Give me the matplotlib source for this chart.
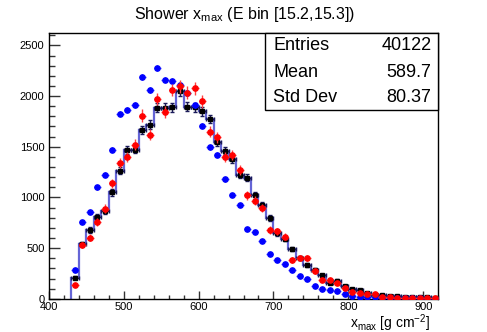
import numpy as np
import matplotlib
matplotlib.use("Agg")
import matplotlib.pyplot as plt
from matplotlib.ticker import MultipleLocator

plt.rcParams['font.family'] = ['Liberation Sans', 'DejaVu Sans']

# bin centres (10 g/cm2 bins)
xmax_centers = [435, 445, 455, 465, 475, 485, 495, 505, 515, 525,
                535, 545, 555, 565, 575, 585, 595, 605, 615, 625,
                635, 645, 655, 665, 675, 685, 695, 705, 715, 725,
                735, 745, 755, 765, 775, 785, 795, 805, 815, 825,
                835, 845, 855, 865, 875, 885, 895, 905, 915]

# histogram (black squares + step line)
hist_counts = [210, 540, 680, 810, 870, 1050, 1265, 1470, 1472, 1663,
               1719, 1884, 1885, 1888, 2050, 1895, 1888, 1850, 1775, 1551,
               1462, 1377, 1223, 1195, 1019, 923, 795, 647, 590, 490,
               404, 335, 288, 232, 160, 178, 125, 99, 85, 55,
               35, 35, 30, 25, 20, 18, 14, 13, 9]

# red points
red_counts = [134, 530, 600, 760, 890, 1138, 1340, 1397, 1522, 1808,
              1620, 1972, 1845, 2060, 2095, 2035, 2075, 1948, 1650, 1594,
              1397, 1420, 1272, 1019, 969, 897, 680, 664, 614, 385,
              404, 400, 272, 187, 185, 160, 108, 68, 62, 45,
              45, 22, 16, 12, 10, 8, 8, 5, 4]

# blue points
blue_counts = [289, 755, 858, 1098, 1226, 1472, 1824, 1867, 1913, 2189,
               2061, 2274, 2163, 2150, 2110, 2030, 1910, 1709, 1495, 1423,
               1177, 1019, 927, 686, 657, 568, 437, 380, 345, 282,
               220, 197, 128, 92, 82, 74, 49, 30, 20, 18,
               15, 10, 8, 6, 5, 4, 3, 2, 1]

title = 'Shower x$_{\\mathregular{max}}$ (E bin [15.2,15.3])'
stats_labels = ['Entries', 'Mean', 'Std Dev']
stats_values = ['40122', '589.7', '80.37']

x = np.array(xmax_centers, dtype=float)
h = np.array(hist_counts, dtype=float)
r = np.array(red_counts, dtype=float)
b = np.array(blue_counts, dtype=float)
edges = np.append(x - 5, x[-1] + 5)

fig = plt.figure(figsize=(4.87, 3.32), dpi=100)
ax = fig.add_axes([0.1, 0.1, 0.8, 0.8])

ax.stairs(h, edges, baseline=0, color='#4a4acf', lw=1.6, alpha=0.85, zorder=2)
ax.errorbar(x, h, yerr=np.sqrt(h), xerr=5, fmt='s', color='black', ms=3.4,
            ecolor='#1a1a5a', elinewidth=1, capsize=1.5, zorder=3)
ax.errorbar(x, b, yerr=0.6 * np.sqrt(b), xerr=5, fmt='o', color='#0000ff', ms=3.8,
            ecolor='#5050ff', elinewidth=1, capsize=0, zorder=4)
ax.errorbar(x, r, yerr=1.4 * np.sqrt(r), xerr=5, fmt='o', color='#ff0000', ms=3.8,
            ecolor='#ff4040', elinewidth=1, capsize=0, zorder=5)

ax.set_xlim(400, 920)
ax.set_ylim(0, 2620)
ax.xaxis.set_major_locator(MultipleLocator(100))
ax.xaxis.set_minor_locator(MultipleLocator(20))
ax.yaxis.set_major_locator(MultipleLocator(500))
ax.yaxis.set_minor_locator(MultipleLocator(100))
ax.tick_params(axis='both', which='both', direction='in', top=False, right=False,
               labelsize=8, color='#333333', width=1)
ax.tick_params(axis='x', which='major', length=5.8, pad=2)
ax.tick_params(axis='x', which='minor', length=2.9)
ax.tick_params(axis='y', which='major', length=7.9, pad=3)
ax.tick_params(axis='y', which='minor', length=4)
for s in ax.spines.values():
    s.set_linewidth(1)

fig.text(0.502, 0.957, title, ha='center', va='center', fontsize=11.5)
fig.text(0.883, 0.028, 'x$_{\\mathregular{max}}$ [g cm$^{\\mathregular{-2}}$]',
         ha='right', va='center', fontsize=10)

# stats box
box = plt.Rectangle((0.544, 0.669), 0.355, 0.2316, transform=fig.transFigure,
                    facecolor='white', edgecolor='black', lw=1, zorder=10)
fig.patches.append(box)
row_y = [0.862, 0.783, 0.705]
for lab, val, yy in zip(stats_labels, stats_values, row_y):
    fig.text(0.561, yy, lab, ha='left', va='center', fontsize=13, zorder=11)
    fig.text(0.886, yy, val, ha='right', va='center', fontsize=13, zorder=11)

fig.savefig('out.png', dpi=100)
